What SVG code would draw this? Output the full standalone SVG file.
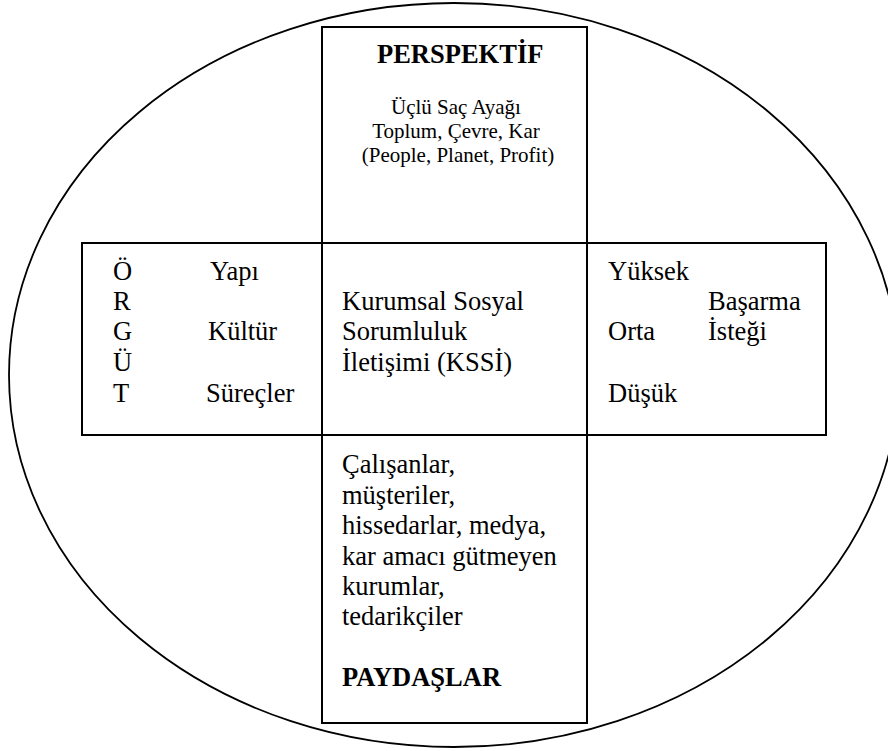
<svg xmlns="http://www.w3.org/2000/svg" width="888" height="751" viewBox="0 0 888 751">
<style>
.box{fill:none;stroke:#000;stroke-width:2}
.ring{fill:#fff;stroke:#000;stroke-width:1.8}
.t{font-family:"Liberation Serif","Times New Roman",serif;font-size:26.5px;fill:#000}
.b{font-weight:bold}
.s{font-family:"Liberation Serif","Times New Roman",serif;font-size:21px;fill:#000;text-anchor:middle}
</style>
<rect width="888" height="751" fill="#fff"/>
<g id="frame"><ellipse class="ring" cx="454" cy="375" rx="445" ry="372"/></g>
<g id="perspektif">
<rect class="box" x="322" y="27" width="265" height="216"/>
<text class="t b" x="377" y="63">PERSPEKTİF</text>
<text class="s" x="456" y="114">Üçlü Saç Ayağı</text>
<text class="s" x="456" y="138">Toplum, Çevre, Kar</text>
<text class="s" x="458" y="162">(People, Planet, Profit)</text>
</g>
<g id="orgut">
<rect class="box" x="82" y="243" width="240" height="192"/>
<text class="t" x="113" y="280">Ö</text>
<text class="t" x="113" y="310">R</text>
<text class="t" x="113" y="340">G</text>
<text class="t" x="113" y="371">Ü</text>
<text class="t" x="113" y="402">T</text>
<text class="t" x="210" y="280">Yapı</text>
<text class="t" x="208" y="340">Kültür</text>
<text class="t" x="206" y="402">Süreçler</text>
</g>
<g id="kssi">
<rect class="box" x="322" y="243" width="265" height="192"/>
<text class="t" x="342" y="310">Kurumsal Sosyal</text>
<text class="t" x="342" y="340">Sorumluluk</text>
<text class="t" x="342" y="371">İletişimi (KSSİ)</text>
</g>
<g id="basarma">
<rect class="box" x="587" y="243" width="239" height="192"/>
<text class="t" x="608" y="280">Yüksek</text>
<text class="t" x="708" y="310">Başarma</text>
<text class="t" x="608" y="340">Orta</text>
<text class="t" x="708" y="340">İsteği</text>
<text class="t" x="608" y="402">Düşük</text>
</g>
<g id="paydaslar">
<rect class="box" x="322" y="435" width="265" height="288"/>
<text class="t" x="342" y="473">Çalışanlar,</text>
<text class="t" x="342" y="503.5">müşteriler,</text>
<text class="t" x="342" y="534">hissedarlar, medya,</text>
<text class="t" x="342" y="564.5">kar amacı gütmeyen</text>
<text class="t" x="342" y="595">kurumlar,</text>
<text class="t" x="342" y="625">tedarikçiler</text>
<text class="t b" x="342" y="686">PAYDAŞLAR</text>
</g>
<g id="connectors"/>
</svg>
